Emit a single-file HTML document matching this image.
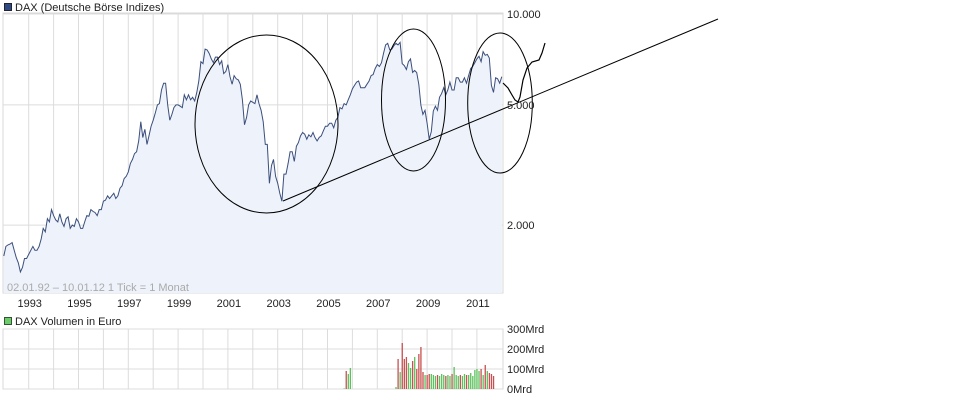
<!DOCTYPE html>
<html><head><meta charset="utf-8"><style>
html,body{margin:0;padding:0;background:#fff;}
svg{display:block;font-family:"Liberation Sans",sans-serif;}
</style></head><body>
<svg id="c" width="971" height="400" xmlns="http://www.w3.org/2000/svg">
<g id="grid"></g>
<g id="main"></g>
<g id="vol"></g>
<g id="ann"></g>
<g id="labels"></g>
</svg>
<script>
const startYear = 1992;
const prices = [
1580,1700,1720,1730,1750,1650,1560,1500,1400,1450,1550,1550,
1600,1650,1700,1650,1650,1700,1800,1950,1900,2100,2050,2250,
2150,2080,2050,2180,2050,1980,2100,2130,1950,2000,1980,2100,
2050,1950,1950,2050,2150,2140,2250,2220,2200,2150,2250,2250,
2400,2420,2500,2450,2500,2550,2450,2500,2650,2700,2850,2900,
3000,3200,3300,3450,3500,3800,4400,3900,4150,3700,3950,4250,
4450,4700,5000,5050,5600,5900,5900,5000,4450,4650,4900,5000,
5000,4950,4900,5400,5200,5400,5200,5300,5150,5500,6000,6950,
6850,7650,7600,7400,7100,6900,7200,7200,6800,7000,6350,6450,
6800,6200,5850,6250,6100,6050,5850,5200,4300,4550,5000,5150,
5100,5050,5400,5050,4800,4400,3700,3700,2750,3150,3300,2900,
2750,2550,2400,2950,2950,3200,3500,3500,3250,3650,3750,3950,
4050,4000,3850,3980,3920,4050,3900,3800,3900,3950,4100,4250,
4250,4350,4350,4200,4450,4550,4900,4850,5050,5000,5200,5400,
5650,5800,5950,6000,5700,5700,5700,5850,5990,6250,6300,6600,
6800,6700,6900,7400,7900,8000,7600,7650,7850,8000,7900,8050,
6850,6750,6550,6950,7100,6400,6500,6400,5850,4990,4650,4800,
4350,3850,4080,4770,4950,4800,5300,5450,5700,5400,5600,5950,
5600,5600,6150,6150,5950,5950,6150,5900,6250,6600,6700,6900,
7100,7250,6950,7500,7300,7350,7150,5800,5500,6150,6100,5900,
6200];
const volStartIndex = 164; // Sep 2005
const volumes = [3,90,75,105,0,0,0,0,0,0,0,0,0,0,0,0,0,0,0,0,0,0,0,0,0,
10,150,85,230,150,160,130,105,140,160,100,175,210,85,70,70,75,75,70,65,70,65,75,70,65,70,65,75,110,70,65,70,65,75,70,70,80,65,95,100,90,100,70,120,90,80,75,65];
const yTicks = [10000,5000,2000];
const yTickLabels = ["10.000","5.000","2.000"];
const volTicks = [0,100,200,300];
const volTickLabels = ["0Mrd","100Mrd","200Mrd","300Mrd"];
const xYears = [1993,1995,1997,1999,2001,2003,2005,2007,2009,2011];

const NS="http://www.w3.org/2000/svg";
const L=3,R=503,T=13,B=293,VT=329,VB=389;
const x = t => 277.7 + (t-2003)*24.9;
const y = v => 14 + (4-Math.log10(v))*302;
const vy = v => VB - v*0.2;
function mk(tag,attrs,parent){const e=document.createElementNS(NS,tag);for(const k in attrs)e.setAttribute(k,attrs[k]);parent.appendChild(e);return e;}
const grid=document.getElementById('grid'),main=document.getElementById('main'),vol=document.getElementById('vol'),ann=document.getElementById('ann'),lab=document.getElementById('labels');

let e;
e=mk('rect',{x:L,y:T,width:R-L,height:B-T,fill:'#fff',stroke:'#d8d8d8'},grid);

e=mk('rect',{x:L,y:VT,width:R-L,height:VB-VT,fill:'#fff',stroke:'#d8d8d8'},grid);

for(let yr=1993;yr<=2011;yr++){
  const gx=x(yr);
  e=mk('line',{x1:gx,x2:gx,y1:T,y2:B,stroke:'#dcdcdc'},grid);
  
  e=mk('line',{x1:gx,x2:gx,y1:VT,y2:VB,stroke:'#dcdcdc'},grid);
  
}
yTicks.forEach((v,i)=>{
  e=mk('line',{x1:L,x2:R,y1:y(v),y2:y(v),stroke:'#dcdcdc'},grid);
  
  e=mk('text',{x:R+4,y:y(v)+4,'font-size':11,fill:'#222'},lab);e.textContent=yTickLabels[i];
  
});
volTicks.forEach((v,i)=>{
  e=mk('line',{x1:L,x2:R,y1:vy(v),y2:vy(v),stroke:'#dcdcdc'},grid);
  
  e=mk('text',{x:R+4,y:vy(v)+4,'font-size':11,fill:'#222'},lab);e.textContent=volTickLabels[i];
  
});
xYears.forEach(yr=>{
  e=mk('text',{x:x(yr)+1,y:307,'font-size':11,fill:'#222','text-anchor':'middle'},lab);e.textContent=yr;
  
});
// price
let pts=prices.map((v,i)=>[x(startYear+i/12),y(v)]);
let d='M'+pts.map(p=>p[0].toFixed(1)+','+p[1].toFixed(1)).join('L');
e=mk('path',{d:d+'L'+pts[pts.length-1][0].toFixed(1)+','+B+'L'+pts[0][0].toFixed(1)+','+B+'Z',fill:'#eef2fa'},main);

e=mk('path',{d:d,fill:'none',stroke:'#3b4f7c','stroke-width':1},main);

// volume
volumes.forEach((v,i)=>{
  if(!v)return;
  const idx=volStartIndex+i;
  const up=prices[idx]>=prices[idx-1];
  const bx=x(startYear+idx/12);
  e=mk('rect',{x:bx-0.6,y:vy(v),width:1.3,height:v*0.2,fill:up?'#5cc05c':'#c85050'},vol);
  
});
// annotations
const A=[{cx:266.5,cy:124,rx:71.5,ry:89},{cx:413.5,cy:100,rx:32,ry:71},{cx:500,cy:103,rx:32.3,ry:70}];
A.forEach(a=>{e=mk('ellipse',Object.assign({fill:'none',stroke:'#000','stroke-width':1},a),ann);
  });
e=mk('line',{x1:283,y1:201,x2:718,y2:19,stroke:'#000','stroke-width':1},ann);

e=mk('path',{d:'M503,83L508,88L512,95L515,100L518,102L520,97L523,80L527,68L532,62L539,60L542,53L545,43',fill:'none',stroke:'#000','stroke-width':1.2},ann);

// legends
e=mk('rect',{x:4.5,y:3.5,width:7,height:7,fill:'#2f4a80',stroke:'#223'},lab);

e=mk('text',{x:15,y:11,'font-size':11,fill:'#222'},lab);e.textContent='DAX (Deutsche Börse Indizes)';

e=mk('rect',{x:4.5,y:317.5,width:7,height:7,fill:'#6ccc6c',stroke:'#353'},lab);

e=mk('text',{x:15,y:325,'font-size':11,fill:'#222'},lab);e.textContent='DAX Volumen in Euro';

e=mk('text',{x:7,y:291,'font-size':11,fill:'#aaa'},lab);e.textContent='02.01.92 – 10.01.12   1 Tick = 1 Monat';

</script>
</body></html>
